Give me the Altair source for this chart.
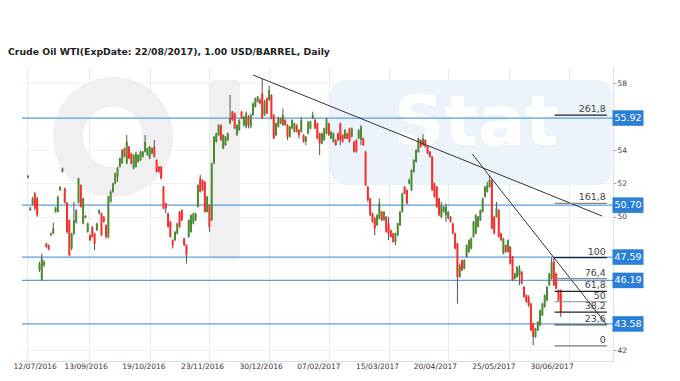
import altair as alt
import pandas as pd

title_text = "Crude Oil WTI(ExpDate: 22/08/2017), 1.00 USD/BARREL, Daily"
watermark_right = "Stat"

opens = [52.35, 50.4, 50.75, 51.4, 51.1, 46.8, 46.2, 47.1, 48.4, 48.3,
         48.9, 49.0, 50.3, 50.3, 51.6, 52.7, 51.7, 50.85, 49.8, 48.1,
         49.0, 49.65, 50.85, 51.9, 49.6, 50.05, 49.1, 48.9, 49.4, 49.0,
         49.2, 50.2, 50.2, 50.0, 49.5, 48.8, 50.9, 51.5, 52.0, 52.4,
         53.0, 53.2, 54.1, 53.2, 54.2, 53.8, 52.9, 53.0, 53.3, 53.4,
         53.6, 53.9, 53.7, 53.5, 53.8, 54.2, 53.4, 53.0, 53.0, 51.8,
         50.8, 50.2, 49.7, 48.6, 48.6, 49.0, 50.3, 50.4, 48.7, 48.3,
         48.8, 49.1, 49.6, 49.8, 50.6, 52.3, 52.2, 52.1, 50.3, 50.7,
         49.8, 53.2, 54.5, 54.9, 55.5, 54.1, 54.3, 54.6, 55.6, 56.3,
         56.2, 54.9, 55.2, 56.3, 55.5, 55.4, 56.0, 55.4, 56.1, 56.6,
         56.9, 57.0, 57.4, 56.1, 57.1, 57.0, 57.3, 56.1, 54.9, 55.4,
         55.9, 55.5, 55.8, 55.5, 54.8, 55.3, 55.1, 55.5, 55.2, 55.1,
         54.9, 54.5, 55.0, 55.3, 55.9, 55.8, 55.6, 55.0, 54.4, 54.6,
         55.0, 55.6, 54.7, 54.5, 54.6, 55.0, 55.6, 54.9, 54.7, 55.0,
         55.3, 54.8, 54.5, 54.6, 54.7, 54.6, 54.7, 53.9, 51.8, 51.1,
         50.2, 49.9, 49.5, 49.9, 50.3, 49.8, 50.0, 49.6, 49.2, 49.0,
         48.5, 48.9, 49.5, 50.3, 51.8, 51.6, 52.0, 51.6, 52.7, 53.3,
         53.9, 54.6, 54.3, 54.6, 54.2, 53.9, 53.6, 52.0, 51.8, 51.1,
         50.0, 50.3, 50.1, 49.9, 50.0, 49.6, 49.0, 48.4, 46.4, 47.4,
         46.9, 47.6, 47.9, 48.1, 48.8, 49.0, 49.4, 49.8, 50.3, 51.2,
         51.5, 51.8, 52.2, 50.0, 50.0, 50.4, 49.0, 47.8, 48.3, 47.9,
         48.2, 47.6, 46.3, 46.4, 46.5, 46.7, 45.8, 45.3, 45.2, 44.8,
         43.6, 42.8, 43.2, 43.5, 44.1, 44.6, 45.0, 45.9, 46.3, 47.3,
         46.6, 45.6, 45.6]
closes = [52.45, 50.55, 51.1, 50.5, 50.1, 47.2, 47.5, 47.3, 48.2, 48.05,
          49.0, 49.3, 50.55, 51.2, 51.8, 52.9, 50.85, 49.1, 47.7, 49.0,
          49.8, 50.4, 52.3, 50.6, 51.1, 49.95, 49.6, 48.6, 48.8, 48.4,
          49.6, 50.4, 48.9, 49.7, 48.8, 51.2, 51.5, 52.0, 52.6, 52.9,
          53.5, 54.0, 53.6, 54.5, 53.5, 53.2, 53.7, 53.8, 53.7, 53.9,
          53.9, 54.5, 54.1, 54.2, 54.1, 53.6, 52.7, 52.7, 52.3, 50.5,
          50.5, 49.4, 48.8, 48.3, 49.1, 49.6, 49.4, 49.8, 48.3, 47.7,
          49.8, 50.1, 50.2, 50.2, 51.9, 51.5, 51.6, 50.3, 51.2, 49.4,
          53.2, 54.8, 55.0, 55.5, 54.6, 54.9, 54.8, 55.0, 55.9, 55.8,
          55.3, 55.5, 55.8, 55.9, 56.0, 56.2, 55.5, 56.1, 56.8, 57.1,
          57.2, 56.8, 55.9, 56.9, 56.2, 57.6, 55.9, 54.7, 55.6, 55.9,
          55.6, 56.1, 55.5, 54.8, 55.4, 55.8, 55.6, 55.1, 54.9, 55.8,
          54.5, 54.8, 55.7, 55.7, 56.1, 55.3, 54.7, 54.4, 55.0, 55.3,
          55.9, 54.9, 55.1, 55.0, 54.3, 54.6, 54.6, 54.5, 55.2, 54.7,
          54.5, 55.3, 53.9, 53.9, 55.2, 55.4, 54.3, 51.9, 51.0, 50.1,
          49.7, 49.3, 50.1, 50.8, 49.8, 50.3, 49.1, 49.0, 48.8, 48.5,
          49.0, 49.6, 50.3, 51.4, 51.4, 50.8, 52.2, 52.8, 53.4, 54.0,
          54.7, 54.2, 54.7, 54.2, 53.8, 53.6, 51.6, 51.2, 50.6, 50.1,
          50.7, 50.6, 50.6, 50.3, 49.7, 49.0, 48.1, 46.4, 47.1, 46.8,
          47.4, 48.3, 48.6, 48.7, 49.7, 50.1, 50.0, 50.4, 51.1, 51.8,
          51.9, 52.2, 49.3, 49.0, 50.5, 48.8, 48.6, 48.7, 47.9, 48.6,
          47.2, 46.2, 46.6, 47.0, 46.9, 46.0, 45.2, 44.9, 44.7, 43.2,
          42.8, 43.3, 43.7, 44.4, 44.8, 45.3, 45.8, 46.6, 47.3, 45.9,
          45.7, 45.0, 44.3]
highs = [52.5, 50.6, 51.2, 51.5, 51.2, 47.3, 47.8, 47.4, 48.45, 48.35,
         49.05, 49.65, 50.6, 51.25, 51.85, 52.95, 51.75, 50.9, 49.85, 49.05,
         50.9, 50.45, 52.35, 51.95, 51.15, 50.1, 49.65, 48.95, 49.45, 49.05,
         49.65, 50.45, 50.25, 50.05, 49.55, 51.25, 51.6, 52.05, 52.65, 53.0,
         53.55, 54.05, 54.15, 54.9, 54.25, 53.85, 53.75, 53.9, 53.75, 53.95,
         53.95, 54.9, 54.15, 54.25, 54.15, 54.6, 53.45, 53.05, 53.05, 51.85,
         50.85, 50.25, 49.75, 48.65, 49.15, 49.65, 50.35, 50.45, 48.75, 48.35,
         49.85, 50.15, 50.25, 50.25, 51.95, 52.5, 52.25, 52.15, 51.25, 50.75,
         53.25, 54.85, 55.05, 55.55, 55.55, 54.95, 54.85, 55.05, 57.3, 56.35,
         56.25, 55.55, 55.85, 56.35, 56.05, 56.3, 56.1, 56.2, 56.85, 57.15,
         57.25, 57.1, 58.3, 57.0, 57.15, 57.85, 57.35, 56.15, 55.65, 56.0,
         55.95, 56.5, 55.85, 55.55, 55.45, 55.85, 55.65, 55.55, 55.25, 56.0,
         54.95, 54.85, 55.75, 55.75, 56.3, 55.9, 55.65, 55.05, 55.05, 55.35,
         55.95, 55.65, 55.15, 55.05, 54.65, 55.05, 55.65, 54.95, 55.25, 55.05,
         55.35, 55.35, 54.55, 54.65, 55.25, 55.5, 54.75, 53.95, 51.85, 51.15,
         50.25, 50.0, 50.15, 51.1, 50.35, 50.35, 50.05, 50.0, 49.25, 49.05,
         49.05, 49.65, 50.35, 51.45, 51.85, 51.65, 52.3, 52.85, 53.45, 54.05,
         54.75, 54.65, 54.95, 54.65, 54.25, 53.95, 53.65, 52.05, 51.85, 51.15,
         50.9, 50.65, 50.8, 50.35, 50.05, 49.65, 49.05, 48.45, 47.2, 47.45,
         47.45, 48.35, 48.65, 48.75, 49.75, 50.15, 50.05, 50.45, 51.15, 51.85,
         52.1, 52.5, 52.25, 50.05, 50.9, 50.45, 49.05, 48.75, 48.35, 48.65,
         48.25, 47.65, 46.65, 47.05, 47.1, 46.75, 45.85, 45.35, 45.3, 44.85,
         43.65, 43.35, 43.75, 44.45, 44.85, 45.35, 45.85, 46.65, 47.55, 47.55,
         46.65, 45.65, 45.65]
lows = [52.3, 50.35, 50.7, 50.4, 50.0, 46.7, 46.2, 47.0, 48.15, 48.0,
        48.85, 48.95, 50.25, 50.25, 51.55, 52.65, 50.8, 49.0, 47.65, 48.0,
        48.9, 49.6, 50.8, 50.55, 49.55, 49.9, 49.05, 48.55, 48.75, 48.0,
        49.15, 50.15, 48.85, 49.65, 48.7, 48.7, 50.85, 51.45, 51.95, 52.1,
        52.95, 53.15, 53.55, 53.15, 53.45, 53.15, 52.85, 52.95, 53.25, 53.35,
        53.55, 53.85, 53.65, 53.45, 53.75, 53.55, 52.65, 52.65, 52.25, 50.45,
        50.2, 49.35, 48.75, 48.1, 48.55, 48.95, 49.35, 49.75, 48.25, 47.2,
        48.75, 49.05, 49.55, 49.75, 50.55, 51.45, 51.55, 50.25, 50.25, 49.1,
        49.75, 53.15, 54.45, 54.85, 54.55, 54.05, 54.25, 54.55, 55.55, 55.75,
        55.25, 54.85, 55.15, 55.85, 55.4, 55.3, 55.3, 55.3, 56.05, 56.55,
        56.85, 56.75, 55.85, 56.05, 56.15, 56.95, 55.85, 54.65, 54.85, 55.35,
        55.55, 55.45, 55.45, 54.6, 54.75, 55.25, 55.05, 55.05, 54.7, 55.05,
        54.45, 54.3, 54.95, 55.25, 55.85, 55.25, 54.65, 53.7, 54.35, 54.55,
        54.95, 54.85, 54.65, 54.45, 54.25, 54.55, 54.3, 54.45, 54.65, 54.65,
        54.45, 54.75, 53.85, 53.85, 54.65, 54.3, 54.25, 51.85, 50.9, 50.05,
        49.65, 48.9, 49.45, 49.85, 49.75, 49.75, 49.05, 48.6, 48.75, 48.45,
        48.3, 48.85, 49.45, 50.25, 51.35, 50.75, 51.95, 51.55, 52.65, 53.25,
        53.85, 54.15, 54.25, 54.15, 53.75, 53.55, 51.55, 51.15, 50.55, 50.05,
        49.9, 50.25, 49.7, 49.85, 49.65, 48.95, 48.05, 44.8, 46.35, 46.75,
        46.85, 47.55, 47.85, 48.05, 48.75, 48.95, 49.35, 49.75, 50.25, 51.15,
        51.45, 51.75, 49.25, 48.95, 49.95, 48.75, 48.55, 47.75, 47.85, 47.85,
        47.15, 46.15, 46.25, 46.35, 45.9, 45.95, 45.15, 44.85, 44.6, 43.15,
        42.3, 42.75, 43.15, 43.45, 44.05, 44.55, 44.95, 45.85, 46.25, 45.85,
        45.65, 44.95, 44.0]

date_labels = ["12/07/2016", "13/09/2016", "19/10/2016", "23/11/2016", "30/12/2016",
               "07/02/2017", "15/03/2017", "20/04/2017", "25/05/2017", "30/06/2017"]
date_pos = [-0.17, 25.3, 50.5, 76.0, 101.5, 126.7, 152.2, 177.4, 202.9, 228.2]
grid_pos = [-0.43, 26.5, 53.1, 78.8, 104.9, 131.0, 157.1, 182.8, 209.4, 235.4]

level_prices = [55.92, 50.70, 47.59, 46.19, 43.58]
level_labels = ["55.92", "50.70", "47.59", "46.19", "43.58"]

fib_labels = ["261,8", "161,8", "100", "76,4", "61,8", "50", "38,2", "23,6", "0"]
fib_prices = [56.09, 50.81, 47.55, 46.30, 45.53, 44.91, 44.29, 43.52, 42.27]
fib_colors = ["#222222", "#8a8a8a", "#222222", "#8a8a8a", "#222222",
              "#8a8a8a", "#222222", "#555555", "#777777"]
fib_start = [229.3] * 9
fib_end = [252.1] * 9

trend_id = ["a", "a", "b", "b"]
trend_x = [98.0, 250.0, 193.5, 252.1]
trend_y = [58.5, 50.05, 53.76, 43.52]

y_ticks = [42, 50, 52, 54, 58]

FONT = "DejaVu Sans"
xs = alt.Scale(domain=[-0.43, 252.57], nice=False, zero=False)
ys = alt.Scale(domain=[41.36, 58.98], nice=False, zero=False)
x_axis = alt.Axis(values=grid_pos, labels=False, ticks=False, grid=True,
                  gridColor="#e3ecf6", domainColor="#d3e2f1", title=None)
y_axis = alt.Axis(orient="right", values=y_ticks, tickSize=3, tickColor="#a0a0a0",
                  labelFontSize=7.5, labelFont=FONT, labelColor="#444444",
                  labelPadding=1, domainColor="#d3e2f1", grid=True,
                  gridColor="#f0f2f4", title=None)


def X(f):
    return alt.X(f, type="quantitative", scale=xs, axis=x_axis)


def Y(f):
    return alt.Y(f, type="quantitative", scale=ys, axis=y_axis)


candles = pd.DataFrame({"i": list(range(len(opens))), "o": opens, "c": closes,
                        "h": highs, "l": lows})
levels = pd.DataFrame({"p": level_prices, "lab": level_labels})
fibs = pd.DataFrame({"p": fib_prices, "lab": fib_labels, "col": fib_colors,
                     "x1": fib_start, "x2": fib_end})
trends = pd.DataFrame({"id": trend_id, "x": trend_x, "y": trend_y})
dates = pd.DataFrame({"pos": date_pos, "lab": date_labels})
title_df = pd.DataFrame({"t": [title_text]})
wm_df = pd.DataFrame({"b": [watermark_right]})

# faint background logo (decoration only)
WM_GRAY = "#f0f0f0"
wm_ring = alt.Chart(wm_df).mark_arc(theta=0, theta2=6.2832, radius=60, radius2=30,
                                    color=WM_GRAY).encode(
    x=alt.value(91), y=alt.value(70))
wm_bar = alt.Chart(wm_df).mark_rect(color=WM_GRAY, cornerRadius=4).encode(
    x=alt.value(188), x2=alt.value(218), y=alt.value(13), y2=alt.value(193))
wm_box = alt.Chart(wm_df).mark_rect(color="#edf3fa", cornerRadius=16).encode(
    x=alt.value(308), x2=alt.value(590), y=alt.value(13), y2=alt.value(118))
wm_stat = alt.Chart(wm_df).mark_text(align="left", baseline="alphabetic", font=FONT,
                                     fontSize=70, fontWeight="bold", color="white").encode(
    x=alt.value(372), y=alt.value(78), text="b:N")

level_rules = alt.Chart(levels).mark_rule(color="#5b9de2", strokeWidth=1.3).encode(y=Y("p"))

wicks = alt.Chart(candles).mark_rule(color="#555555", strokeWidth=1).encode(
    x=X("i"), y=Y("l"), y2="h")
bodies = alt.Chart(candles).mark_bar(size=2).encode(
    x=X("i"), y=Y("o"), y2="c",
    color=alt.condition("datum.c >= datum.o", alt.value("#4a8c2c"), alt.value("#ff2a2a")))

trend_lines = alt.Chart(trends).mark_line(color="#333333", strokeWidth=1).encode(
    x=X("x"), y=Y("y"), detail="id:N")

fib_rules = alt.Chart(fibs).mark_rule(strokeWidth=1.2).encode(
    x=X("x1"), x2="x2", y=Y("p"), color=alt.Color("col:N", scale=None))
fib_text = alt.Chart(fibs).mark_text(align="right", baseline="bottom", dx=-1, dy=-1,
                                     font=FONT, fontSize=9.5, color="#444444").encode(
    x=X("x2"), y=Y("p"), text="lab:N")

boxes = alt.Chart(levels).mark_point(shape="M-1,-0.5H1V0.5H-1Z", size=961, filled=True,
                                     color="#2a7fd6", opacity=1).encode(
    x=alt.value(606), y=Y("p"))
box_text = alt.Chart(levels).mark_text(align="center", baseline="middle", font=FONT,
                                       fontSize=9.5, color="white").encode(
    x=alt.value(606), y=Y("p"), text="lab:N")

title = alt.Chart(title_df).mark_text(align="left", baseline="middle", font=FONT,
                                      fontSize=9.3, fontWeight="bold", color="#222222").encode(
    x=alt.value(-14), y=alt.value(-15), text="t:N")

first_date = alt.Chart(dates.iloc[:1]).mark_text(align="left", baseline="middle", dx=-14,
                                                 font=FONT, fontSize=7.5, color="#333333").encode(
    x=X("pos"), y=alt.value(300), text="lab:N")
other_dates = alt.Chart(dates.iloc[1:]).mark_text(align="center", baseline="middle",
                                                  font=FONT, fontSize=7.5, color="#333333").encode(
    x=X("pos"), y=alt.value(300), text="lab:N")

chart = alt.layer(
    wm_ring, wm_bar, wm_box, wm_stat,
    level_rules, wicks, bodies, trend_lines, fib_rules, fib_text,
    boxes, box_text, title, first_date, other_dates
).properties(
    width=591, height=294,
    autosize=alt.AutoSizeParams(type="none"),
    padding={"left": 14, "top": 59, "right": 58, "bottom": 12},
    background="white",
).configure_view(stroke="transparent")

chart.save("out.html", embed_options={"renderer": "svg", "actions": False})
